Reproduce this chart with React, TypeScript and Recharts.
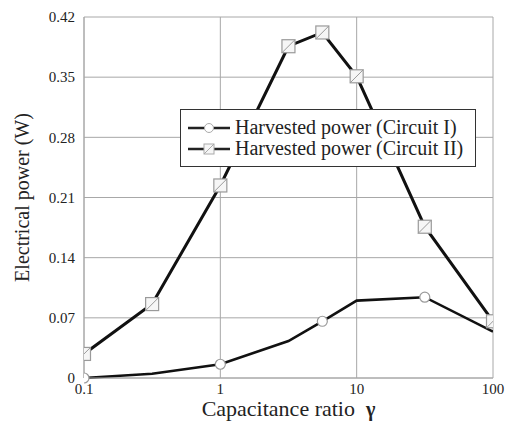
import { LineChart, Line, XAxis, YAxis, CartesianGrid, Legend, Label } from 'recharts';

const gamma = [0.1, 0.316, 1, 3.16, 5.6, 10, 31.6, 100];
const circuitI = [0, 0.005, 0.016, 0.043, 0.066, 0.09, 0.094, 0.054];
const circuitII = [0.028, 0.086, 0.224, 0.386, 0.402, 0.351, 0.176, 0.066];
// Circuit I only carries markers at these ratios
const circuitIMarked = [0.1, 1, 5.6, 31.6];

const xTicks = [0.1, 1, 10, 100];
const yTicks = [0, 0.07, 0.14, 0.21, 0.28, 0.35, 0.42];

const data = gamma.map((g, i) => ({ gamma: g, c1: circuitI[i], c2: circuitII[i] }));

const FONT = 'Liberation Serif, DejaVu Serif, serif';
const GRID = '#a8a8a8';

function CircleDot(props: any) {
  const { cx, cy, payload } = props;
  if (cx == null || cy == null || !circuitIMarked.includes(payload.gamma)) return <g />;
  return <circle cx={cx} cy={cy} r={5} fill="#fff" stroke="#9a9a9a" strokeWidth={1.2} />;
}

function SquareDot(props: any) {
  const { cx, cy } = props;
  if (cx == null || cy == null) return <g />;
  const s = 6.5;
  return (
    <g>
      <rect x={cx - s} y={cy - s} width={s * 2} height={s * 2} fill="#f6f6f6" stroke="#9a9a9a" strokeWidth={1.2} />
      <line x1={cx - s} y1={cy + s} x2={cx + s} y2={cy - s} stroke="#9a9a9a" strokeWidth={1} />
    </g>
  );
}

function LegendBox() {
  const rows = [
    { label: 'Harvested power (Circuit I)', square: false },
    { label: 'Harvested power (Circuit II)', square: true },
  ];
  return (
    <div
      style={{
        background: '#fff',
        border: '1.5px solid #333',
        padding: '7px 12px 7px 6px',
        fontFamily: FONT,
        fontSize: 20,
        color: '#222',
        lineHeight: '21px',
        whiteSpace: 'nowrap',
      }}
    >
      {rows.map((r) => (
        <div key={r.label} style={{ display: 'flex', alignItems: 'center' }}>
          <svg width={44} height={14} style={{ marginRight: 4 }}>
            <line x1={1} y1={7} x2={43} y2={7} stroke="#222" strokeWidth={2.5} />
            {r.square ? (
              <g>
                <rect x={17} y={2} width={10} height={10} fill="#f6f6f6" stroke="#aaa" strokeWidth={1} />
                <line x1={17} y1={12} x2={27} y2={2} stroke="#aaa" strokeWidth={1} />
              </g>
            ) : (
              <circle cx={22} cy={7} r={4.5} fill="#fff" stroke="#aaa" strokeWidth={1} />
            )}
          </svg>
          {r.label}
        </div>
      ))}
    </div>
  );
}

function YTitle(props: any) {
  const { viewBox } = props;
  const x = 22;
  const y = viewBox.y + viewBox.height / 2;
  return (
    <text x={x} y={y} transform={`rotate(-90 ${x} ${y})`} textAnchor="middle" dominantBaseline="central"
      fontFamily={FONT} fontSize={20} fill="#222">
      Electrical power (W)
    </text>
  );
}

function XTitle(props: any) {
  const { viewBox } = props;
  const x = viewBox.x + viewBox.width / 2;
  return (
    <text x={x} y={416} textAnchor="middle" fontFamily={FONT} fontSize={22} fill="#222">
      Capacitance ratio{'\u00a0\u00a0'}<tspan fontWeight="bold" fontSize={20}>γ</tspan>
    </text>
  );
}

export default function App() {
  return (
    <div style={{ position: 'absolute', left: 0, top: 0, width: 507, height: 423, background: '#fff', fontFamily: FONT }}>
      <LineChart width={507} height={423} data={data} margin={{ top: 17, right: 14, bottom: 0, left: 0 }}>
        <CartesianGrid stroke={GRID} strokeWidth={1} />
        <XAxis
          dataKey="gamma"
          type="number"
          scale="log"
          domain={[0.1, 100]}
          ticks={xTicks}
          allowDataOverflow
          height={45}
          tickSize={0}
          tickMargin={5}
          axisLine={{ stroke: GRID }}
          tick={{ fill: '#222', fontSize: 15, fontFamily: FONT }}
          tickFormatter={(v: number) => String(v)}
        >
          <Label content={<XTitle />} />
        </XAxis>
        <YAxis
          type="number"
          domain={[0, 0.42]}
          ticks={yTicks}
          width={84}
          tickSize={0}
          tickMargin={9}
          axisLine={{ stroke: GRID }}
          tick={{ fill: '#222', fontSize: 15, fontFamily: FONT }}
          tickFormatter={(v: number) => (v === 0 ? '0' : v.toFixed(2))}
        >
          <Label content={<YTitle />} />
        </YAxis>
        <Legend
          layout="horizontal"
          align="center"
          verticalAlign="middle"
          content={<LegendBox />}
          wrapperStyle={{ left: 180, top: 109, width: 'auto', height: 'auto' }}
        />
        <Line dataKey="c1" stroke="#111" strokeWidth={2.6} dot={<CircleDot />} activeDot={false} isAnimationActive={false} />
        <Line dataKey="c2" stroke="#111" strokeWidth={3} dot={<SquareDot />} activeDot={false} isAnimationActive={false} />
      </LineChart>
    </div>
  );
}
